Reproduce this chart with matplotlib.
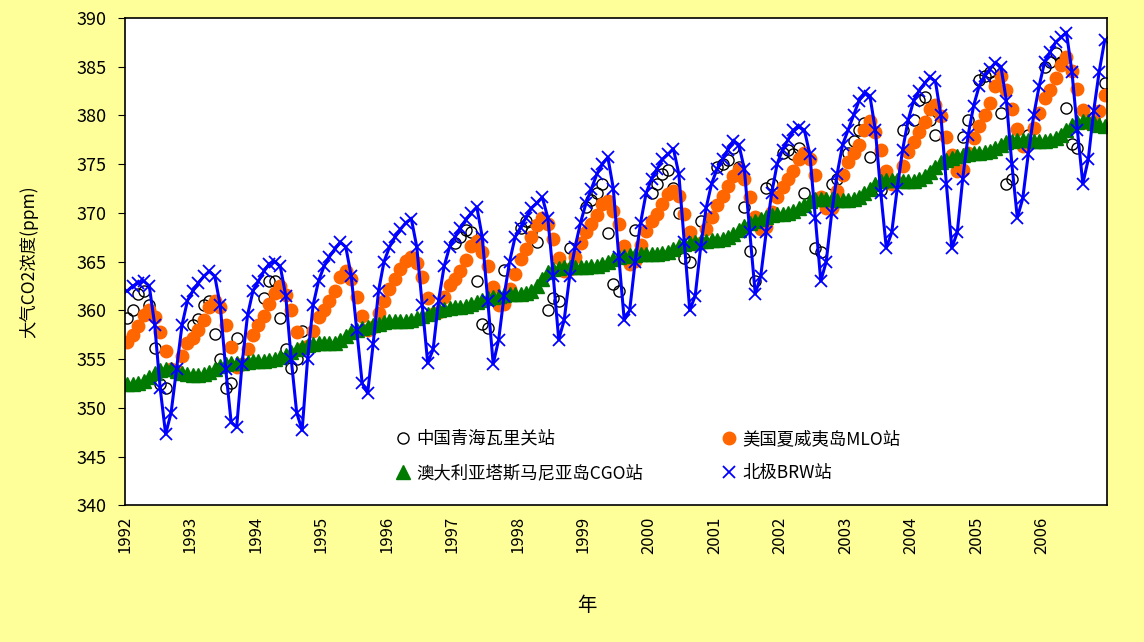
import numpy as np
import matplotlib
matplotlib.use("Agg")
import matplotlib.pyplot as plt

plt.rcParams["font.family"] = ["Noto Sans CJK SC", "DejaVu Sans"]

nan = np.nan
years = list(range(1992, 2007))

# monthly values, Jan..Dec for each year
wlg = [
    359.2, 360.0, 361.7, 362.0, 360.5, 356.1, 352.4, 352.0, nan, nan, nan, nan,
    358.5, 359.1, 360.5, 361.0, 357.6, 355.0, 352.0, 352.5, 357.2, nan, nan, nan,
    nan, 361.3, 363.0, 363.0, 359.2, 356.0, 354.1, 355.0, 357.9, nan, nan, nan,
    nan, nan, nan, nan, nan, nan, nan, nan, nan, nan, nan, nan,
    nan, nan, nan, nan, nan, nan, nan, nan, nan, nan, nan, nan,
    366.9, 367.5, 368.2, 368.0, 363.0, 358.6, 358.2, nan, nan, 364.1, nan, nan,
    368.5, 369.2, 368.0, 367.0, nan, 360.0, 361.3, 361.0, nan, 366.4, nan, nan,
    370.6, 371.3, 372.0, 373.0, 367.9, 362.7, 362.0, nan, nan, 368.2, nan, nan,
    372.0, 373.0, 374.0, 374.4, 372.6, 370.0, 365.4, 365.0, nan, 369.2, nan, nan,
    374.7, 375.0, 375.4, 376.7, 374.7, 370.6, 366.1, 363.0, nan, 372.6, 373.0, nan,
    376.1, 376.5, 376.0, 376.7, 372.0, nan, 366.4, 366.0, nan, 373.0, 373.5, nan,
    376.1, 377.4, 378.5, 379.2, 375.7, nan, 372.3, nan, nan, nan, 378.5, nan,
    379.5, 381.6, 381.9, 379.5, 378.0, nan, nan, nan, nan, 377.8, 379.5, nan,
    383.6, 384.0, 384.5, 383.5, 380.2, 373.0, 373.5, nan, 377.1, 378.0, nan, nan,
    385.0, 385.5, 386.4, 385.5, 380.8, 377.1, 376.7, nan, nan, 379.8, nan, 383.3,
]

mlo = [
    356.8, 357.5, 358.4, 359.5, 360.0, 359.3, 357.8, 355.8, 354.0, 353.8, 355.3, 356.6,
    357.2, 358.0, 359.0, 360.3, 361.0, 360.3, 358.5, 356.2, 354.2, 354.5, 356.0, 357.5,
    358.5, 359.4, 360.6, 361.8, 362.5, 361.6, 360.0, 357.8, 356.0, 356.3, 357.9, 359.3,
    360.0, 361.0, 362.0, 363.4, 364.0, 363.2, 361.4, 359.4, 358.0, 358.3, 359.7, 361.0,
    362.2, 363.2, 364.2, 365.1, 365.5, 364.9, 363.4, 361.3, 359.6, 359.8, 361.4, 362.6,
    363.2, 364.0, 365.2, 366.6, 367.1, 366.0, 364.5, 362.4, 360.5, 360.6, 362.2, 363.7,
    365.3, 366.3, 367.5, 368.8, 369.5, 368.9, 367.3, 365.4, 364.0, 364.2, 365.5, 366.9,
    368.0, 368.9, 369.8, 370.9, 371.2, 370.2, 368.9, 366.6, 364.8, 365.1, 366.7, 368.1,
    369.2, 369.9, 370.9, 371.9, 372.2, 371.7, 369.9, 368.0, 366.8, 366.9, 368.3, 369.6,
    370.8, 371.7, 372.8, 373.8, 374.5, 373.5, 371.6, 369.6, 368.3, 368.6, 370.1, 371.6,
    372.7, 373.5, 374.3, 375.5, 376.1, 375.5, 373.9, 371.6, 370.5, 370.5, 372.2, 373.9,
    375.2, 376.1, 377.0, 378.5, 379.4, 378.3, 376.5, 374.3, 373.0, 373.2, 374.8, 376.2,
    377.3, 378.3, 379.3, 380.7, 381.1, 379.9, 377.8, 375.9, 374.3, 374.4, 376.1, 377.7,
    378.9, 380.0, 381.3, 383.0, 384.0, 382.6, 380.7, 378.6, 376.9, 377.2, 378.7, 380.3,
    381.8, 382.6, 383.8, 385.2, 386.0, 384.6, 382.7, 380.6, 379.2, 379.3, 380.5, 382.1,
]

cgo = [
    352.4, 352.4, 352.5, 352.8, 353.2, 353.6, 353.9, 354.0, 354.0, 353.8, 353.6, 353.5,
    353.4, 353.4, 353.5, 353.7, 354.0, 354.3, 354.5, 354.6, 354.6, 354.6, 354.7, 354.8,
    354.8, 354.8, 354.9, 355.0, 355.2, 355.4, 355.7, 356.0, 356.2, 356.4, 356.5, 356.6,
    356.6, 356.6, 356.7, 357.0, 357.4, 357.8, 358.0, 358.2, 358.3, 358.5, 358.6, 358.8,
    358.9, 358.9, 358.9, 358.9, 359.0, 359.2, 359.4, 359.6, 359.8, 360.0, 360.1, 360.2,
    360.3, 360.3, 360.4, 360.6, 360.9, 361.1, 361.3, 361.4, 361.5, 361.6, 361.7, 361.7,
    361.7, 361.8, 362.0, 362.5, 363.2, 363.9, 364.2, 364.3, 364.4, 364.4, 364.4, 364.4,
    364.4, 364.5, 364.6, 364.8, 365.0, 365.3, 365.5, 365.6, 365.7, 365.7, 365.8, 365.8,
    365.8, 365.8, 365.9, 366.0, 366.3, 366.6, 366.8, 366.9, 367.0, 367.1, 367.1, 367.2,
    367.2, 367.3, 367.5, 367.8, 368.2, 368.7, 369.0, 369.2, 369.4, 369.6, 369.8, 369.9,
    369.9, 370.0, 370.2, 370.5, 370.8, 371.2, 371.4, 371.4, 371.4, 371.4, 371.3, 371.3,
    371.3, 371.4, 371.6, 372.0, 372.5, 373.0, 373.3, 373.4, 373.4, 373.4, 373.3, 373.3,
    373.3, 373.5, 373.8, 374.2, 374.7, 375.2, 375.4, 375.6, 375.8, 375.9, 376.0, 376.1,
    376.1, 376.2, 376.4, 376.7, 377.0, 377.3, 377.4, 377.5, 377.5, 377.5, 377.4, 377.4,
    377.4, 377.5, 377.7, 378.0, 378.5, 379.0, 379.3, 379.4, 379.4, 379.2, 379.0, 378.9,
]

brw = [
    362.0, 362.5, 362.8, 363.0, 362.5, 358.5, 352.0, 347.3, 349.5, 354.0, 358.5, 361.0,
    362.0, 362.8, 363.5, 364.0, 363.5, 360.5, 354.0, 348.5, 348.0, 354.5, 359.5, 362.0,
    363.0, 364.0, 364.8, 365.0, 364.5, 361.5, 355.0, 349.5, 347.7, 355.0, 360.5, 363.0,
    364.5, 365.5, 366.3, 367.0, 366.5, 363.5, 358.0, 352.5, 351.5, 356.5, 362.0, 365.0,
    366.5, 367.5, 368.3, 369.0, 369.4, 366.5, 360.5, 354.6, 356.0, 361.0, 364.5, 366.5,
    367.5, 368.5, 369.3, 370.0, 370.6, 367.5, 361.0, 354.5, 357.0, 361.5, 365.0, 367.5,
    368.5, 369.5, 370.5, 371.0, 371.6, 369.5, 363.5, 357.0, 359.0, 363.5, 366.5, 369.0,
    371.0, 372.5, 374.0, 375.0, 375.7, 372.5, 365.5, 359.0, 360.0, 365.0, 369.0, 372.0,
    373.5, 374.5, 375.5, 376.0, 376.6, 374.0, 367.0, 360.0, 361.5, 366.5, 370.5, 373.0,
    374.5, 375.5, 376.5, 377.4, 377.0, 374.5, 368.0, 361.7, 363.5, 368.0, 372.0, 375.0,
    376.5, 377.5, 378.5, 378.8, 378.5, 376.0, 369.5, 363.0, 365.0, 370.0, 374.0, 377.0,
    378.5, 380.0, 381.5, 382.3, 382.0, 378.5, 372.0, 366.4, 368.0, 372.5, 376.5, 379.5,
    381.5, 382.5, 383.3, 383.9, 383.5, 380.0, 373.0, 366.4, 368.0, 373.5, 378.0, 381.0,
    383.0, 384.0, 384.8, 385.4, 385.0, 381.5, 375.0, 369.5, 371.5, 376.0, 380.0, 383.0,
    385.5, 386.5, 387.5, 388.0, 388.5, 384.5, 378.5, 373.0, 375.5, 380.5, 384.5, 387.7,
]

labels = ["中国青海瓦里关站", "美国夏威夷岛MLO站", "澳大利亚塔斯马尼亚岛CGO站", "北极BRW站"]

t = 1992 + (np.arange(len(brw)) + 0.5) / 12.0

fig = plt.figure(figsize=(11.44, 6.42), dpi=100)
fig.patch.set_facecolor("#ffff99")
ax = fig.add_axes([0.109, 0.213, 0.859, 0.759])
ax.set_facecolor("white")

h1, = ax.plot(t, wlg, "o", ms=8, mfc="none", mec="black", mew=1.0, ls="none", label=labels[0])
h2, = ax.plot(t, mlo, "o", ms=9, color="#ff6600", lw=1.0, label=labels[1])
h3, = ax.plot(t, cgo, "^", ms=9.5, color="#007a00", ls="none", label=labels[2])
h4, = ax.plot(t, brw, "-x", ms=9, mew=1.3, lw=2.2, color="#0000ff", label=labels[3])

ax.set_xlim(1992, 2007)
ax.set_ylim(340, 390)
ax.set_yticks(range(340, 391, 5))
ax.set_xticks(years)
ax.set_xticklabels([str(y) for y in years], rotation=90)
ax.tick_params(axis="y", direction="out", length=5, labelsize=13, pad=8)
ax.tick_params(axis="x", length=0, labelsize=12, pad=8)
for s in ax.spines.values():
    s.set_color("black")
    s.set_linewidth(1.2)

ax.set_ylabel("大气CO2浓度(ppm)", fontsize=12.5)
ax.yaxis.set_label_coords(-0.088, 0.5)
ax.set_xlabel("年", fontsize=14)
ax.xaxis.set_label_coords(0.47, -0.185)

leg = ax.legend([h1, h3, h2, h4], [labels[0], labels[2], labels[1], labels[3]],
                ncol=2, loc="lower left", bbox_to_anchor=(0.26, 0.015),
                frameon=False, fontsize=12.5, handlelength=0.8, handletextpad=0.4,
                columnspacing=4.5, labelspacing=0.95)
leg.legend_handles[3].set_linestyle("none")

fig.savefig("out.png", dpi=100, facecolor=fig.get_facecolor())
